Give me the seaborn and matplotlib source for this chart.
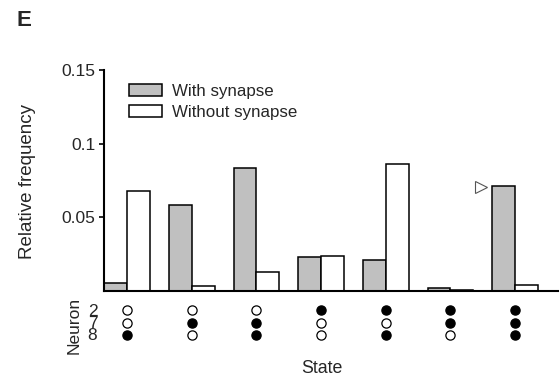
import matplotlib
matplotlib.use("Agg")
import matplotlib.pyplot as plt
import matplotlib.transforms as mtransforms
import seaborn as sns
import pandas as pd

# data
states = ["S1", "S2", "S3", "S4", "S5", "S6", "S7"]
with_syn = [0.0052, 0.0581, 0.0832, 0.0231, 0.0212, 0.0020, 0.0712]
without_syn = [0.0677, 0.0036, 0.0131, 0.0240, 0.0859, 0.0004, 0.0043]
neurons = ["2", "7", "8"]
# 1 = filled (active), 0 = open
neuron_states = {
    "2": [0, 0, 0, 1, 1, 1, 1],
    "7": [0, 1, 1, 0, 0, 1, 1],
    "8": [1, 0, 1, 0, 1, 0, 1],
}
yticks = [0.05, 0.1, 0.15]
ytick_labels = ["0.05", "0.1", "0.15"]
marker_x = 5.47
marker_y = 0.0706

df = pd.DataFrame({
    "State": states * 2,
    "Freq": with_syn + without_syn,
    "Cond": ["With synapse"] * 7 + ["Without synapse"] * 7,
})

sns.set_style("ticks")
plt.rcParams["font.family"] = ["Liberation Sans", "DejaVu Sans"]

fig = plt.figure(figsize=(5.6, 3.8), dpi=100)
ax = fig.add_axes([0.186, 0.234, 0.810, 0.582])

sns.barplot(data=df, x="State", y="Freq", hue="Cond", palette=["#c0c0c0", "white"],
            edgecolor="black", linewidth=1.1, width=0.708, ax=ax, saturation=1)

ax.set_xlim(-0.354, 6.66)
ax.set_ylim(0, 0.15)
ax.set_yticks(yticks)
ax.set_yticklabels(ytick_labels, fontsize=12.5)
ax.set_xticks([])
ax.set_xlabel("")
ax.set_ylabel("")
ax.tick_params(axis="y", length=3.5, width=1.2, pad=3, color="black")
for s in ["top", "right"]:
    ax.spines[s].set_visible(False)
for s in ["left", "bottom"]:
    ax.spines[s].set_linewidth(1.5)
    ax.spines[s].set_color("black")

# legend
leg = ax.legend(loc="upper left", bbox_to_anchor=(0.055, 0.935), frameon=False,
                fontsize=12.2, handlelength=1.95, handleheight=0.7,
                handletextpad=0.6, labelspacing=0.33, borderaxespad=0, borderpad=0)

# open triangle marker
ax.plot(marker_x, marker_y, marker=">", mfc="white", mec="#555555", ms=8, mew=0.8,
        clip_on=False)

# neuron state dots below the axis
trans = mtransforms.blended_transform_factory(ax.transData, ax.transAxes)
row_y = [-0.086, -0.143, -0.200]
for ry, n in zip(row_y, neurons):
    for i, v in enumerate(neuron_states[n]):
        ax.scatter(i, ry, s=44, transform=trans, clip_on=False,
                   facecolor="black" if v else "white", edgecolor="black", linewidth=0.9)

# neuron ids as one stacked text block
ax.text(-0.015, row_y[1] - 0.005, "\n".join(neurons), transform=ax.transAxes, ha="right",
        va="center", ma="right", fontsize=12.5, linespacing=0.74)

ax.text(-0.066, -0.155, "Neuron", transform=ax.transAxes, rotation=90,
        ha="center", va="center", fontsize=12.5)

fig.text(0.575, 0.029, "State", ha="center", va="center", fontsize=12.8)
fig.text(0.05, 0.522, "Relative frequency", rotation=90, ha="center", va="center",
         fontsize=13.5)
fig.text(0.03, 0.947, "E", fontsize=16, fontweight="bold", ha="left", va="center")

fig.savefig("out.png", dpi=100)
